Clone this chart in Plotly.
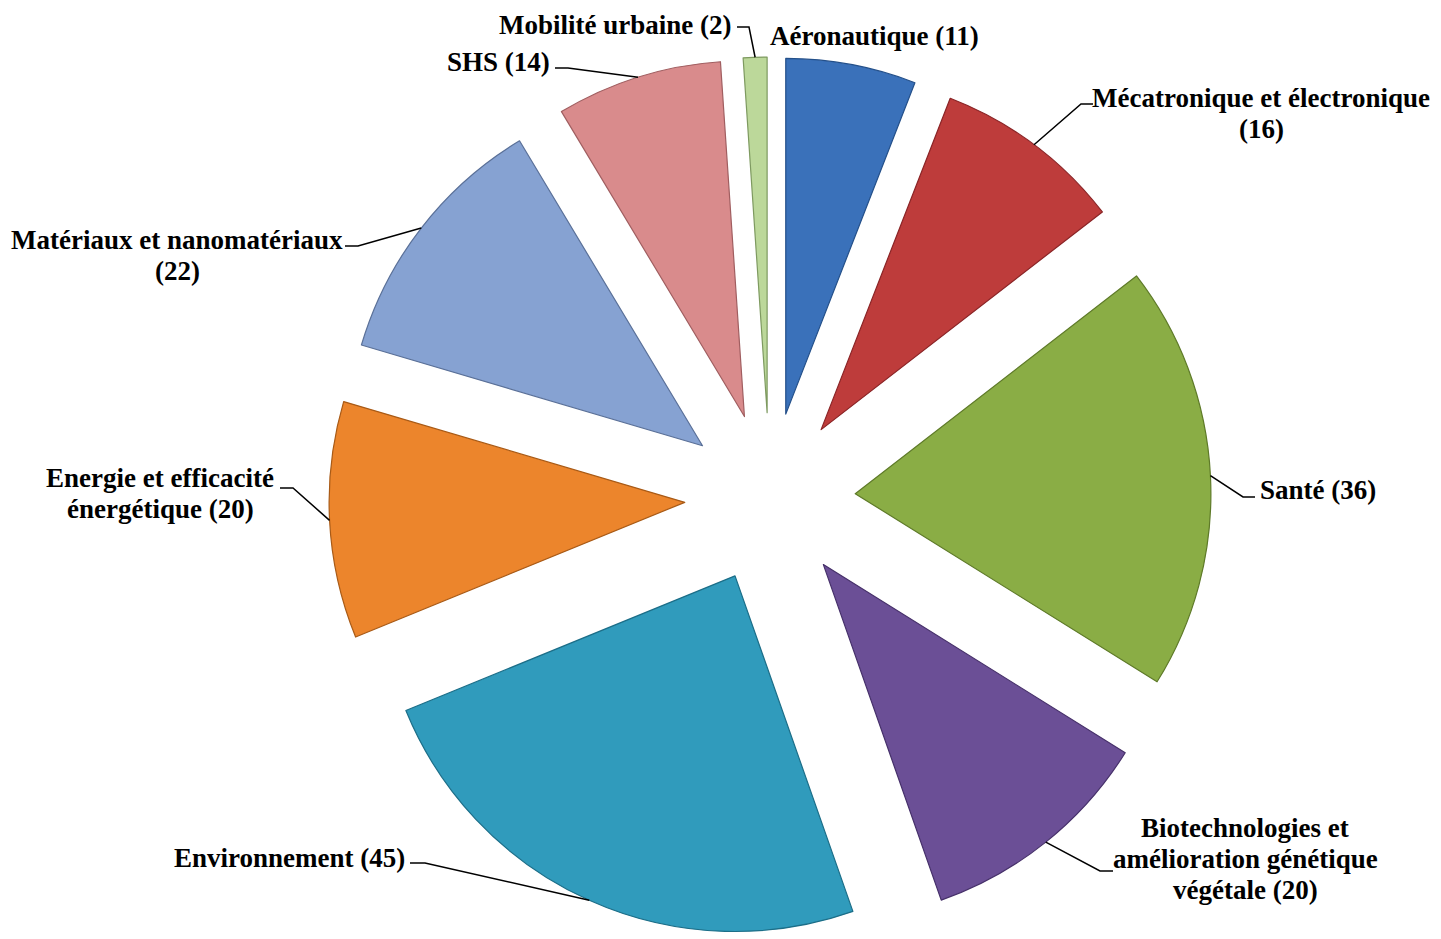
import math
import plotly.graph_objects as go

# ---- data ----
labels = ["Aéronautique", "Mécatronique et électronique", "Santé",
          "Biotechnologies et amélioration génétique végétale", "Environnement",
          "Energie et efficacité énergétique", "Matériaux et nanomatériaux",
          "SHS", "Mobilité urbaine"]
values = [11, 16, 36, 20, 45, 20, 22, 14, 2]
label_lines = [["Aéronautique (11)"],
               ["Mécatronique et électronique", "(16)"],
               ["Santé (36)"],
               ["Biotechnologies et", "amélioration génétique", "végétale (20)"],
               ["Environnement (45)"],
               ["Energie et efficacité", "énergétique (20)"],
               ["Matériaux et nanomatériaux", "(22)"],
               ["SHS (14)"],
               ["Mobilité urbaine (2)"]]
colors = ["#3A71BA", "#BE3C3B", "#8AAD45", "#6B4F96", "#309BBC",
          "#EC852C", "#86A2D2", "#D98B8C", "#BCD89A"]
edge_colors = ["#24508A", "#8A2426", "#5E7A28", "#46306A", "#1C6E88",
               "#A85A16", "#5A7098", "#A05E60", "#7E9A60"]

# ---- layout geometry (screen pixels; page body has an 8px margin) ----
OFF = 8
WF, HF = 1441 - OFF, 939 - OFF
CX, CY = 770, 498          # pie centre on screen
HALF = 441                 # half size of pie box
PULL = 0.24

def px(x):
    return (x - OFF) / WF

def py(y):
    return 1 - (y - OFF) / HF

# label placement: x, first-line y, xanchor; line step 31 px
label_pos = [
    (768, 36, "left"),
    (1261, 98, "center"),
    (1258, 490, "left"),
    (1245, 828, "center"),
    (407, 858, "right"),
    (160, 478, "center"),
    (177, 240, "center"),
    (552, 62, "right"),
    (733, 25, "right"),
]
LINE_STEP = 31
stubs = [
    None,
    ((1093, 104), (1081, 104)),
    ((1255, 497), (1243, 497)),
    ((1113, 871), (1100, 871)),
    ((410, 863), (425, 863)),
    ((280, 488), (293, 488)),
    ((345, 246), (358, 246)),
    ((555, 68), (568, 68)),
    ((737, 27), (749, 27)),
]

fig = go.Figure(go.Pie(
    labels=labels, values=values, sort=False, direction="clockwise", rotation=0,
    pull=[PULL] * len(values), textinfo="none", hoverinfo="label+value",
    marker=dict(colors=colors, line=dict(color=edge_colors, width=1.2)),
    domain=dict(x=[px(CX - HALF), px(CX + HALF)], y=[max(0, py(CY + HALF)), py(CY - HALF)]),
    showlegend=False,
))

total = sum(values)
cum = 0
shapes = []
annotations = []
for i, v in enumerate(values):
    mid = (cum + v / 2) / total * 2 * math.pi
    cum += v
    ex = CX + HALF * math.sin(mid)
    ey = CY - HALF * math.cos(mid)
    lx, ly, anchor = label_pos[i]
    for k, line in enumerate(label_lines[i]):
        annotations.append(dict(
            x=px(lx), y=py(ly + k * LINE_STEP), xref="paper", yref="paper",
            xanchor=anchor, yanchor="middle",
            text="<b>" + line + "</b>", showarrow=False,
            font=dict(family="Liberation Serif, Times New Roman, serif", size=27, color="black"),
        ))
    if stubs[i] is not None:
        (sx, sy), (bx, by) = stubs[i]
        path = f"M {px(sx)} {py(sy)} L {px(bx)} {py(by)} L {px(ex)} {py(ey)}"
        shapes.append(dict(type="path", path=path, xref="paper", yref="paper",
                           line=dict(color="black", width=1.5)))

fig.update_layout(
    width=WF, height=HF, margin=dict(l=0, r=0, t=0, b=0),
    paper_bgcolor="white", plot_bgcolor="white",
    shapes=shapes, annotations=annotations,
)
fig.write_html("out.html")
